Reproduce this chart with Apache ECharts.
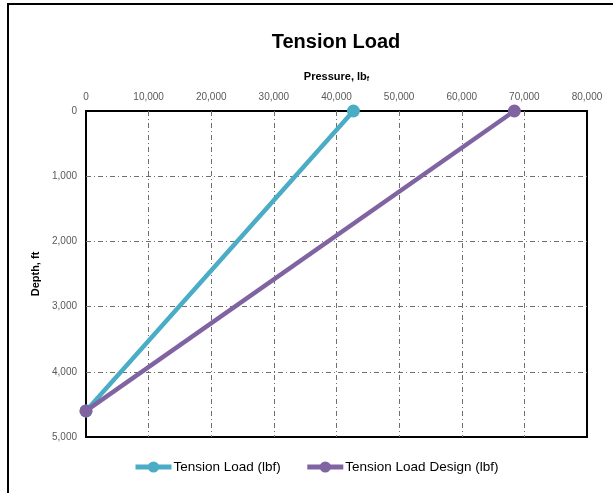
<!DOCTYPE html>
<html>
<head>
<meta charset="utf-8">
<script src="https://cdn.jsdelivr.net/npm/echarts@6/dist/echarts.min.js"></script>
<style>
  html, body { margin: 0; padding: 0; background: #fff; }
  #chart { width: 613px; height: 493px; }
</style>
</head>
<body>
<div id="chart"></div>
<script>
// Tension load vs depth: points as [pressure lbf, depth ft]
const tensionLoad = [[42700, 0], [0, 4600]];
const tensionLoadDesign = [[68400, 0], [0, 4600]];
const seriesNames = ['Tension Load (lbf)', 'Tension Load Design (lbf)'];
const seriesColors = ['#4BACC6', '#8064A2'];
const xTicks = { min: 0, max: 80000, interval: 10000 };
const yTicks = { min: 0, max: 5000, interval: 1000 };

const FONT = "'Liberation Sans Narrow', 'Arial Narrow', 'Liberation Sans', Arial, sans-serif";
const fmt = v => v.toLocaleString('en-US');
const gridLine = {
  show: true, showMinLine: false, showMaxLine: false,
  lineStyle: { color: '#6f6f6f', width: 1, type: [5, 3, 1, 3] }
};

const chart = echarts.init(document.getElementById('chart'));
chart.setOption({
  animation: false,
  backgroundColor: '#fff',
  textStyle: { fontFamily: FONT },
  graphic: [{
    type: 'rect',
    shape: { x: 8, y: 4, width: 700, height: 600 },
    style: { fill: 'none', stroke: '#000', lineWidth: 2 },
    silent: true, z: -1
  }],
  title: {
    text: 'Tension Load',
    left: 331, top: 27, textAlign: 'center',
    textStyle: { fontFamily: FONT, fontSize: 20, fontWeight: 'bold', color: '#000' }
  },
  grid: {
    left: 86, top: 111, width: 501, height: 326,
    show: true, borderColor: '#000', borderWidth: 2, backgroundColor: 'transparent'
  },
  xAxis: {
    type: 'value', position: 'top',
    min: xTicks.min, max: xTicks.max, interval: xTicks.interval,
    name: 'Pressure, lb{sub|f}', nameLocation: 'middle', nameGap: 28,
    nameTextStyle: {
      fontFamily: FONT, fontSize: 11, fontWeight: 'bold', color: '#000',
      rich: { sub: { fontFamily: FONT, fontSize: 7, fontWeight: 'bold', color: '#000', verticalAlign: 'bottom', padding: [6, 0, 0, 0] } }
    },
    axisLine: { show: false }, axisTick: { show: false },
    axisLabel: { formatter: fmt, fontFamily: FONT, fontSize: 10, color: '#595959', margin: 9 },
    splitLine: gridLine
  },
  yAxis: {
    type: 'value', inverse: true,
    min: yTicks.min, max: yTicks.max, interval: yTicks.interval,
    name: 'Depth, ft', nameLocation: 'middle', nameGap: 43, nameRotate: 90,
    nameTextStyle: { fontFamily: FONT, fontSize: 11, fontWeight: 'bold', color: '#000' },
    axisLine: { show: false }, axisTick: { show: false },
    axisLabel: { formatter: fmt, fontFamily: FONT, fontSize: 10, color: '#595959', margin: 9 },
    splitLine: gridLine
  },
  legend: {
    bottom: 14, left: 128, itemGap: 24, itemWidth: 36, itemHeight: 14,
    lineStyle: { width: 5 },
    textStyle: { fontFamily: FONT, fontSize: 13.5, color: '#000', padding: [0, 0, 0, -3] },
    data: seriesNames
  },
  series: [
    {
      name: seriesNames[0], type: 'line', data: tensionLoad,
      color: seriesColors[0], lineStyle: { width: 4.5 },
      symbol: 'circle', symbolSize: 13, z: 3
    },
    {
      name: seriesNames[1], type: 'line', data: tensionLoadDesign,
      color: seriesColors[1], lineStyle: { width: 4.5 },
      symbol: 'circle', symbolSize: 13, z: 4
    }
  ]
});
</script>
</body>
</html>
